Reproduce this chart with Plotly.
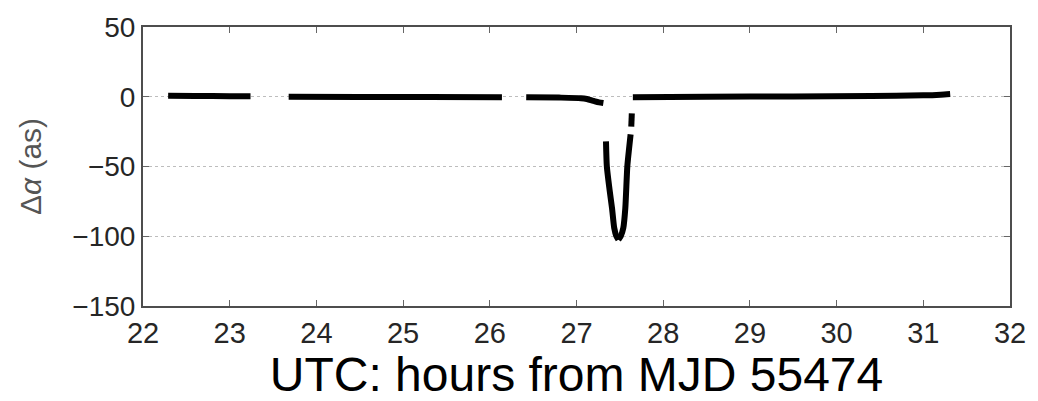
import plotly.graph_objects as go

# Segment data (hours from MJD 55474, delta alpha in arcsec)
seg1_x = [22.29, 22.6, 23.0, 23.24]
seg1_y = [0.8, 0.6, 0.4, 0.4]

seg2_x = [23.68, 24.5, 25.3, 26.14]
seg2_y = [0.0, -0.1, -0.2, -0.3]

seg3_x = [26.42, 26.8, 27.05, 27.12, 27.2, 27.26, 27.31]
seg3_y = [-0.3, -0.6, -1.0, -1.6, -3.0, -4.0, -4.5]

dip_left_x = [27.34, 27.35, 27.38, 27.41, 27.435, 27.46, 27.483]
dip_left_y = [-32, -50, -66, -80, -94, -100, -102.5]

dip_right_x = [27.483, 27.51, 27.54, 27.563, 27.586, 27.605, 27.624]
dip_right_y = [-102.5, -100, -94, -80, -50, -38, -27]

dip_top_x = [27.632, 27.638]
dip_top_y = [-21.5, -12]

seg4_x = [27.65, 28.5, 29.5, 30.4, 31.0, 31.2, 31.31]
seg4_y = [-0.3, 0.0, 0.2, 0.6, 1.0, 1.5, 2.0]

x_ticks = [22, 23, 24, 25, 26, 27, 28, 29, 30, 31, 32]
y_ticks = [-150, -100, -50, 0, 50]

segments = [
    (seg1_x, seg1_y), (seg2_x, seg2_y), (seg3_x, seg3_y),
    (dip_left_x, dip_left_y), (dip_right_x, dip_right_y),
    (dip_top_x, dip_top_y), (seg4_x, seg4_y),
]

xs, ys = [], []
for sx, sy in segments:
    xs += list(sx) + [None]
    ys += list(sy) + [None]

fig = go.Figure()
fig.add_trace(go.Scatter(
    x=xs, y=ys, mode="lines",
    line=dict(color="black", width=6, shape="spline", smoothing=0.6),
    connectgaps=False, showlegend=False,
))

axis_common = dict(
    showline=True, linecolor="#4d4d4d", linewidth=2, mirror="allticks",
    ticks="inside", ticklen=6, tickcolor="#666666", tickwidth=1,
    zeroline=False,
)

fig.update_layout(
    width=1038, height=401,
    margin=dict(l=143, r=19, t=20, b=95),
    paper_bgcolor="white", plot_bgcolor="white",
    font=dict(family="Liberation Sans, Arial, sans-serif", color="#262626"),
    xaxis=dict(
        range=[22, 32], tickvals=x_ticks, showgrid=False,
        tickfont=dict(size=29, color="#262626"),
        title=dict(text="UTC: hours from MJD 55474",
                   font=dict(size=48, color="black"), standoff=4),
        **axis_common,
    ),
    yaxis=dict(
        range=[-150, 50], tickvals=y_ticks,
        showgrid=True, gridcolor="#bdbdbd", griddash="dot", gridwidth=1,
        tickfont=dict(size=28, color="#262626"),
        title=dict(text="Δ<i>α</i> (as)", font=dict(size=30, color="#555555"),
                   standoff=22),
        **axis_common,
    ),
)

fig.write_html("out.html")
